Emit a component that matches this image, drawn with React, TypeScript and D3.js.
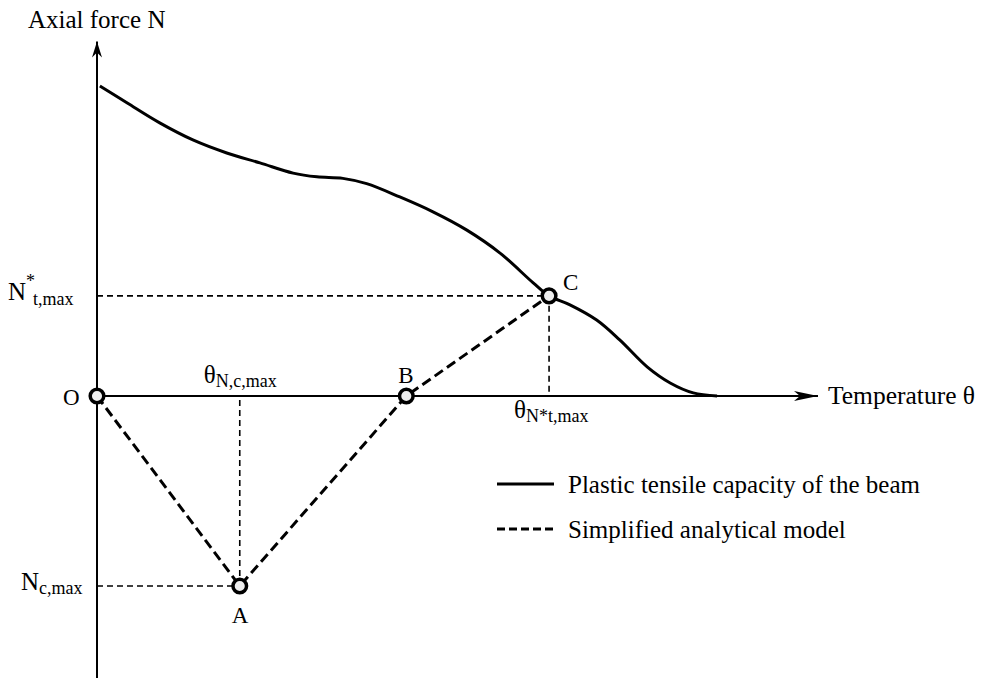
import React from "react";
import * as d3 from "d3";

// Plastic tensile capacity of the beam vs. temperature (normalised units)
const capacityTemp = [0.4, 4.2, 8.7, 13.3, 18.0, 22.6, 27.2, 30.5, 34.1, 37.4, 42.0, 46.6, 51.3, 55.9, 60.5, 62.7, 65.6, 69.3, 72.5, 76.3, 79.5, 82.7, 86.0];
const capacityForce = [100, 94.5, 88.1, 82.6, 78.4, 75.2, 71.9, 70.7, 70.2, 68.5, 64.2, 59.4, 53.5, 46.1, 36.5, 32.3, 29.4, 24.5, 18.1, 9.4, 4.2, 1.0, 0];

// Simplified analytical model key points
const modelLabels = ["O", "A", "B", "C"];
const modelTemp = [0, 19.8, 42.9, 62.7];
const modelForce = [0, -61.3, 0, 32.3];

const legendLabels = ["Plastic tensile capacity of the beam", "Simplified analytical model"];

const W = 982;
const H = 681;
const FONT = "'Liberation Serif', 'Times New Roman', serif";

export default function App() {
  const x = d3.scaleLinear().domain([0, 100]).range([97, 818]);
  const y = d3.scaleLinear().domain([0, 100]).range([396, 86]);

  const capPts: [number, number][] = capacityTemp.map((t, i) => [x(t), y(capacityForce[i])]);
  const capLine = d3.line().curve(d3.curveCatmullRom.alpha(0.5))(capPts) || "";
  const modelPts: [number, number][] = modelTemp.map((t, i) => [x(t), y(modelForce[i])]);
  const modelLine = d3.line()(modelPts) || "";

  const yTop = y(115);
  const yBottom = y(-91);
  const xEnd = x(100);

  const A = modelPts[1];
  const C = modelPts[3];

  const labelOffsets: Record<string, [number, number]> = {
    O: [-34, 9],
    A: [-8, 37],
    B: [-8, -13],
    C: [14, -6],
  };

  return (
    <svg width={W} height={H} style={{ position: "absolute", left: 0, top: 0, background: "#fff" }} fontFamily={FONT}>
      <defs>
        <marker id="arrowUp" viewBox="0 0 10 16" refX="5" refY="0" markerWidth="10" markerHeight="16" markerUnits="userSpaceOnUse" orient="0">
          <path d="M5,0 L10,16 L5,11 L0,16 Z" fill="#000" />
        </marker>
        <marker id="arrowRight" viewBox="0 0 24 10" refX="24" refY="5" markerWidth="24" markerHeight="10" markerUnits="userSpaceOnUse" orient="0">
          <path d="M24,5 L0,0 L6,5 L0,10 Z" fill="#000" />
        </marker>
      </defs>

      {/* axes */}
      <line x1={x(0)} y1={yBottom} x2={x(0)} y2={yTop + 2} stroke="#000" strokeWidth={2} markerEnd="url(#arrowUp)" />
      <line x1={x(0)} y1={y(0)} x2={xEnd} y2={y(0)} stroke="#000" strokeWidth={2} markerEnd="url(#arrowRight)" />

      {/* reference lines to key points */}
      <g stroke="#000" strokeWidth={1.6} strokeDasharray="6,4" fill="none">
        <line x1={x(0)} y1={C[1]} x2={C[0]} y2={C[1]} />
        <line x1={C[0]} y1={C[1]} x2={C[0]} y2={y(0)} />
        <line x1={x(0)} y1={A[1]} x2={A[0]} y2={A[1]} />
        <line x1={A[0]} y1={A[1]} x2={A[0]} y2={y(0)} />
      </g>

      {/* capacity curve */}
      <path d={capLine} fill="none" stroke="#000" strokeWidth={3} />

      {/* simplified model */}
      <path d={modelLine} fill="none" stroke="#000" strokeWidth={3} strokeDasharray="10,5" />

      {modelPts.map((p, i) => (
        <g key={modelLabels[i]}>
          <circle cx={p[0]} cy={p[1]} r={6.8} fill="#eee" stroke="#000" strokeWidth={3.5} />
          <text x={p[0] + labelOffsets[modelLabels[i]][0]} y={p[1] + labelOffsets[modelLabels[i]][1]} fontSize={23}>
            {modelLabels[i]}
          </text>
        </g>
      ))}

      {/* axis titles */}
      <text x={28} y={28} fontSize={25}>Axial force N</text>
      <text x={828} y={404} fontSize={25.5}>Temperature θ</text>

      {/* force labels */}
      <text x={8} y={300} fontSize={25}>
        N<tspan fontSize={18} dy={-13}>*</tspan>
        <tspan fontSize={18} x={33} dy={18}>t,max</tspan>
      </text>
      <text x={21} y={590} fontSize={25}>
        N<tspan fontSize={18} dy={4}>c,max</tspan>
      </text>

      {/* temperature labels */}
      <text x={A[0] - 36} y={383} fontSize={25}>
        θ<tspan fontSize={18} dy={4}>N,c,max</tspan>
      </text>
      <text x={C[0] - 35} y={418} fontSize={25}>
        θ<tspan fontSize={18} dy={4}>N*t,max</tspan>
      </text>

      {/* legend */}
      {legendLabels.map((lab, i) => (
        <g key={lab} transform={`translate(497, ${484 + i * 45})`}>
          <line x1={0} y1={0} x2={57} y2={0} stroke="#000" strokeWidth={3} strokeDasharray={i === 1 ? "8,4" : undefined} />
          <text x={71} y={9} fontSize={25}>{lab}</text>
        </g>
      ))}
    </svg>
  );
}
